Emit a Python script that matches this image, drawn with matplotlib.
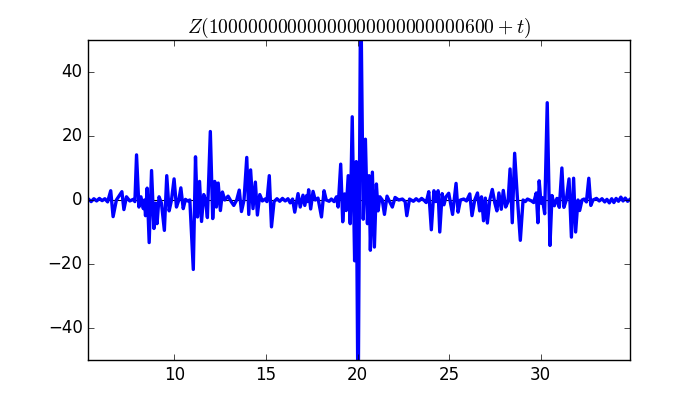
import matplotlib
matplotlib.use('Agg')
import matplotlib.pyplot as plt

# extrema (t, Z)
t_vals = [
    5.30, 5.45, 5.60, 5.75, 5.90, 6.05, 6.20, 6.35, 6.52, 6.65,
    6.83, 7.13, 7.24, 7.38, 7.56, 7.75, 7.84, 7.93, 8.06, 8.17,
    8.30, 8.36, 8.42, 8.51, 8.62, 8.75, 8.88, 8.98, 9.05, 9.16,
    9.29, 9.45, 9.58, 9.71, 9.84, 9.98, 10.11, 10.24, 10.35, 10.48,
    10.60, 10.72, 10.84, 11.03, 11.15, 11.26, 11.37, 11.48, 11.60, 11.70,
    11.80, 11.96, 12.09, 12.20, 12.29, 12.39, 12.51, 12.62, 12.75, 12.93,
    13.10, 13.24, 13.40, 13.54, 13.66, 13.80, 13.95, 14.06, 14.16, 14.29,
    14.42, 14.53, 14.66, 14.80, 14.95, 15.05, 15.18, 15.30, 15.44, 15.60,
    15.75, 15.90, 16.05, 16.20, 16.32, 16.45, 16.57, 16.75, 16.87, 17.02,
    17.12, 17.22, 17.27, 17.33, 17.44, 17.57, 17.69, 17.84, 18.03, 18.17,
    18.29, 18.45, 18.57, 18.72, 18.85, 18.94, 19.08, 19.19, 19.29, 19.38,
    19.49, 19.60, 19.71, 19.84, 19.93, 20.03, 20.17, 20.31, 20.43, 20.54,
    20.63, 20.70, 20.81, 20.92, 21.03, 21.12, 21.22, 21.35, 21.47, 21.61,
    21.75, 21.90, 22.05, 22.25, 22.45, 22.60, 22.69, 22.84, 23.05, 23.20,
    23.35, 23.50, 23.65, 23.75, 23.89, 24.03, 24.17, 24.28, 24.40, 24.49,
    24.62, 24.72, 24.83, 24.98, 25.19, 25.38, 25.49, 25.62, 25.80, 25.95,
    26.13, 26.25, 26.40, 26.55, 26.67, 26.77, 26.88, 26.98, 27.09, 27.22,
    27.36, 27.50, 27.61, 27.72, 27.85, 27.96, 28.09, 28.22, 28.33, 28.45,
    28.58, 28.72, 28.89, 29.04, 29.16, 29.28, 29.50, 29.62, 29.76, 29.85,
    29.92, 30.02, 30.09, 30.22, 30.36, 30.51, 30.62, 30.75, 30.89, 31.02,
    31.16, 31.27, 31.40, 31.55, 31.68, 31.80, 31.91, 32.04, 32.13, 32.26,
    32.37, 32.50, 32.63, 32.74, 32.86, 33.05, 33.20, 33.35, 33.50, 33.62,
    33.75, 33.88, 34.00, 34.12, 34.25, 34.38, 34.50, 34.62, 34.75, 34.90,
]
z_vals = [
    0.3, -0.5, 0.4, -0.3, 0.5, -0.2, 0.4, -0.6, 2.9, -5.2,
    0.0, 2.6, -3.0, 1.0, -0.3, 0.2, -0.5, 14.1, -2.2, 1.0,
    -2.7, 0.0, -4.9, 3.7, -13.3, 9.2, -8.9, -1.0, -7.4, 1.0,
    -1.0, -9.5, 7.6, -3.4, 0.0, 6.6, -2.2, 0.0, 3.8, -2.7,
    0.2, -0.3, 0.0, -21.7, 13.5, -5.3, 5.8, -6.7, 1.7, 0.0,
    -5.5, 21.4, -5.8, 5.8, -2.2, 5.3, -3.3, 2.5, 0.0, 1.2,
    -0.5, -1.7, 0.0, 3.1, -3.6, 0.0, 13.3, -4.5, 9.4, -2.7,
    5.6, -4.7, 1.7, -0.3, 0.3, -0.5, 7.6, -8.4, -0.5, 0.4,
    -0.4, 0.5, -0.3, 0.4, -0.9, 0.3, -3.8, 2.0, -2.2, 1.5,
    -1.7, 1.4, -0.5, 3.2, -2.8, 2.7, 0.0, 0.6, -5.3, 2.9,
    0.0, -0.4, 0.3, -0.5, 1.0, -2.2, 11.2, -6.8, 1.9, -3.3,
    7.6, -7.4, 26.0, -19.0, 12.0, -70.0, 70.0, -6.0, 19.0, -7.4,
    7.6, -15.7, 8.7, -14.7, 5.0, -3.4, 1.0, 0.0, -4.5, 1.2,
    -0.5, -2.2, 0.8, 0.0, 0.3, -0.5, -4.9, 0.3, -0.4, 0.4,
    -0.3, 0.5, -0.2, -0.8, 2.6, -9.3, 2.9, -0.5, 2.9, -10.0,
    2.0, -1.5, 1.0, 2.1, -4.5, 5.2, -3.8, 0.0, 0.3, -0.3,
    1.9, -4.9, 0.0, 2.2, -3.4, 1.0, -6.5, 0.6, -7.2, 0.0,
    3.3, -1.0, -3.4, 2.2, -2.9, 3.0, -2.2, -0.5, 9.7, -7.1,
    14.6, 1.5, -12.6, 0.0, -0.5, 0.3, -0.3, -0.8, 2.2, -7.1,
    6.0, -1.0, 0.7, -4.3, 30.4, -14.2, 1.4, -1.8, 0.5, -2.3,
    10.0, -2.3, 0.0, 6.6, -11.6, 6.8, -10.0, 0.0, -3.3, 0.0,
    0.3, -0.6, 6.8, -1.7, 0.0, 0.5, -0.3, 0.4, -0.6, 0.2,
    -0.9, 0.4, -0.8, 0.5, -0.4, 0.9, -0.3, 0.6, -0.4, 0.3,
]

title = r'$Z(10000000000000000000000000600+t)$'
x_ticks = [10, 15, 20, 25, 30]
y_ticks = [-40, -20, 0, 20, 40]

plt.style.use('classic')
plt.rcParams['mathtext.fontset'] = 'cm'

fig, ax = plt.subplots(figsize=(7, 4), dpi=100)
fig.patch.set_facecolor('white')
fig.subplots_adjust(left=0.126, right=0.9, bottom=0.1, top=0.9)

ax.axhline(0, color='k', lw=0.8, zorder=1)
ax.plot(t_vals, z_vals, color='b', lw=2.4, zorder=2)
ax.set_xlim(5.29, 34.88)
ax.set_ylim(-50, 50)
ax.set_xticks(x_ticks)
ax.set_yticks(y_ticks)
ax.set_title(title, fontsize=14.2)

fig.savefig('out.png', dpi=100, facecolor='white')
